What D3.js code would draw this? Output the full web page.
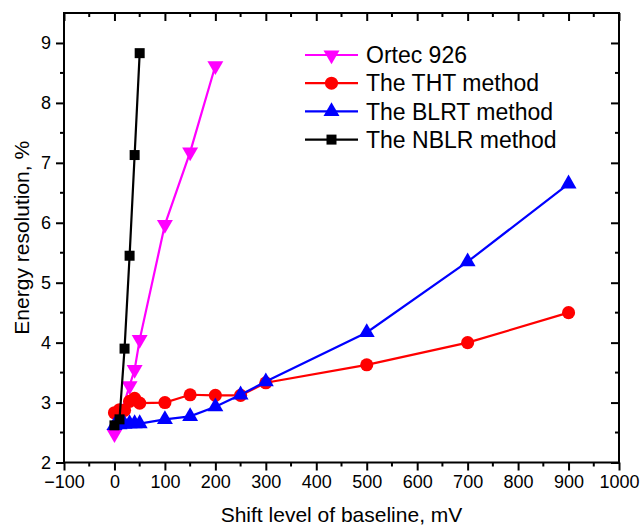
<!DOCTYPE html>
<html>
<head>
<meta charset="utf-8">
<script src="https://cdn.jsdelivr.net/npm/d3@7"></script>
<style>
  html, body { margin: 0; padding: 0; background: #fff; }
  svg { display: block; font-family: "Liberation Sans", Arial, sans-serif; }
</style>
</head>
<body>
<svg id="chart" width="642" height="526"></svg>
<script>
// Baseline shift (mV) and energy resolution (%) for each method
const ortecX = [0, 30, 40, 50, 100, 150, 200];
const ortecY = [2.48, 3.28, 3.55, 4.05, 5.97, 7.18, 8.62];

const thtX = [0, 10, 20, 30, 40, 50, 100, 150, 200, 250, 300, 500, 700, 900];
const thtY = [2.83, 2.88, 2.87, 3.02, 3.07, 2.99, 3.0, 3.13, 3.12, 3.12, 3.33, 3.63, 4.0, 4.5];

const blrtX = [0, 10, 20, 30, 40, 50, 100, 150, 200, 250, 300, 500, 700, 900];
const blrtY = [2.62, 2.63, 2.64, 2.65, 2.65, 2.65, 2.72, 2.77, 2.93, 3.13, 3.35, 4.17, 5.35, 6.65];

const nblrX = [0, 10, 20, 30, 40, 50];
const nblrY = [2.62, 2.72, 3.9, 5.45, 7.13, 8.83];

const seriesNames = ["Ortec 926", "The THT method", "The BLRT method", "The NBLR method"];
const seriesColors = ["#ff00ff", "#ff0000", "#0000ff", "#000000"];
const seriesSymbols = ["down", "circle", "up", "square"];

const xTicks = [-100, 0, 100, 200, 300, 400, 500, 600, 700, 800, 900, 1000];
const yTicks = [2, 3, 4, 5, 6, 7, 8, 9];

const xTitle = "Shift level of baseline, mV";
const yTitle = "Energy resolution, %";

const svg = d3.select("#chart");
const margin = { left: 64, right: 23, top: 13, bottom: 63.5 };
const W = 642, H = 526;

const x = d3.scaleLinear().domain([-100, 1000]).range([margin.left, W - margin.right]);
const y = d3.scaleLinear().domain([2, 9.5]).range([H - margin.bottom, margin.top]);

const series = [
  { xs: ortecX, ys: ortecY },
  { xs: thtX, ys: thtY },
  { xs: blrtX, ys: blrtY },
  { xs: nblrX, ys: nblrY }
].map((s, i) => ({
  name: seriesNames[i], color: seriesColors[i], symbol: seriesSymbols[i],
  points: s.xs.map((v, j) => [v, s.ys[j]])
}));

// Marker shapes
const symTri = d3.symbol().type(d3.symbolTriangle).size(110);
const symCircle = d3.symbol().type(d3.symbolCircle).size(135);
const symSquare = d3.symbol().type(d3.symbolSquare).size(100);
function markerPath(sym) {
  if (sym === "circle") return symCircle();
  if (sym === "square") return symSquare();
  return symTri();
}
function markerTransform(sym, px, py) {
  if (sym === "down") return `translate(${px},${py}) rotate(180)`;
  return `translate(${px},${py})`;
}

// Axes
const xMinor = d3.range(-50, 1000, 100);
const yMinor = d3.range(2.5, 9.5, 1);
const axisW = 2;

const gAx = svg.append("g");
const xAxisBottom = d3.axisBottom(x).tickValues(xTicks).tickSize(8).tickPadding(5).tickFormat(d3.format("d"));
const xAxisTop = d3.axisTop(x).tickValues(xTicks).tickSize(-8).tickFormat("");
const yAxisLeft = d3.axisLeft(y).tickValues(yTicks).tickSize(8).tickPadding(5).tickFormat(d3.format("d"));
const yAxisRight = d3.axisRight(y).tickValues(yTicks).tickSize(-8).tickFormat("");

function styleAxis(g) {
  g.select(".domain").remove();
  g.selectAll(".tick line").attr("stroke", "#000").attr("stroke-width", axisW);
  g.selectAll(".tick text").attr("fill", "#000").style("font-size", "18px");
}

gAx.append("g").attr("transform", `translate(0,${y(2)})`).call(xAxisBottom).call(styleAxis);
gAx.append("g").attr("transform", `translate(0,${y(9.5)})`).call(xAxisTop).call(styleAxis);
gAx.append("g").attr("transform", `translate(${x(-100)},0)`).call(yAxisLeft).call(styleAxis);
gAx.append("g").attr("transform", `translate(${x(1000)},0)`).call(yAxisRight).call(styleAxis);

// Minor ticks
gAx.append("g").selectAll("line.mb").data(xMinor).join("line")
  .attr("x1", d => x(d)).attr("x2", d => x(d)).attr("y1", y(2)).attr("y2", y(2) + 4)
  .attr("stroke", "#000").attr("stroke-width", axisW);
gAx.append("g").selectAll("line.mt").data(xMinor).join("line")
  .attr("x1", d => x(d)).attr("x2", d => x(d)).attr("y1", y(9.5)).attr("y2", y(9.5) + 4)
  .attr("stroke", "#000").attr("stroke-width", axisW);
gAx.append("g").selectAll("line.ml").data(yMinor).join("line")
  .attr("x1", x(-100) - 4).attr("x2", x(-100)).attr("y1", d => y(d)).attr("y2", d => y(d))
  .attr("stroke", "#000").attr("stroke-width", axisW);
gAx.append("g").selectAll("line.mr").data(yMinor).join("line")
  .attr("x1", x(1000) - 4).attr("x2", x(1000)).attr("y1", d => y(d)).attr("y2", d => y(d))
  .attr("stroke", "#000").attr("stroke-width", axisW);

// Frame
gAx.append("rect")
  .attr("x", x(-100)).attr("y", y(9.5))
  .attr("width", x(1000) - x(-100)).attr("height", y(2) - y(9.5))
  .attr("fill", "none").attr("stroke", "#000").attr("stroke-width", axisW);

// Axis titles
svg.append("text")
  .attr("x", (x(-100) + x(1000)) / 2).attr("y", 522)
  .attr("text-anchor", "middle").style("font-size", "21px").attr("fill", "#000")
  .text(xTitle);
svg.append("text")
  .attr("transform", `translate(29,${(y(2) + y(9.5)) / 2}) rotate(-90)`)
  .attr("text-anchor", "middle").style("font-size", "21px").attr("fill", "#000")
  .text(yTitle);

// Series lines and markers
const line = d3.line().x(d => x(d[0])).y(d => y(d[1]));
const gData = svg.append("g");
series.forEach(s => {
  const g = gData.append("g");
  g.append("path").attr("d", line(s.points))
    .attr("fill", "none").attr("stroke", s.color).attr("stroke-width", 2.2);
  g.selectAll("path.m").data(s.points).join("path").attr("class", "m")
    .attr("d", markerPath(s.symbol))
    .attr("transform", d => markerTransform(s.symbol, x(d[0]), y(d[1])))
    .attr("fill", s.color);
});

// Legend
const legend = svg.append("g");
const legY0 = 55, legDy = 28.2, legX1 = 305, legX2 = 358;
series.forEach((s, i) => {
  const yy = legY0 + i * legDy;
  legend.append("line").attr("x1", legX1).attr("x2", legX2).attr("y1", yy).attr("y2", yy)
    .attr("stroke", s.color).attr("stroke-width", 2.2);
  legend.append("path").attr("d", markerPath(s.symbol))
    .attr("transform", markerTransform(s.symbol, (legX1 + legX2) / 2, yy))
    .attr("fill", s.color);
  legend.append("text").attr("x", 366).attr("y", yy).attr("dy", "0.36em")
    .style("font-size", "23px").attr("fill", "#000").text(s.name);
});
</script>
</body>
</html>
